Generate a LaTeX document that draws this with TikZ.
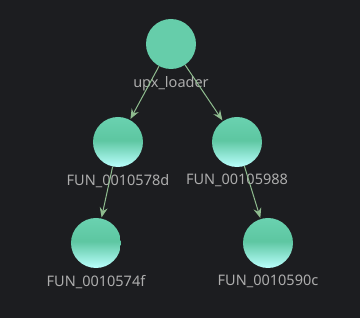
\documentclass[tikz,border=0pt]{standalone}
\usepackage{fontspec}
\setmainfont{Noto Sans}
\usetikzlibrary{arrows.meta}
\definecolor{bgdark}{HTML}{1C1D20}
\definecolor{aqua}{HTML}{66CDAA}
\definecolor{aquatop}{HTML}{6AD2B0}
\definecolor{aquamid}{HTML}{5DC6A1}
\definecolor{aqualight}{HTML}{BAFFFD}
\definecolor{linkgreen}{HTML}{8FBC8F}
\definecolor{labelgray}{HTML}{ADADAD}
% node box runs from 25bp (bottom) to 75bp (top)
\pgfdeclareverticalshading{fnshade}{100bp}{color(0bp)=(aqualight);
  color(25bp)=(aqualight); color(52bp)=(aquamid); color(75bp)=(aquatop);
  color(100bp)=(aquatop)}

\begin{document}
\begin{tikzpicture}[x=1pt, y=-1pt,
          fn/.style={circle, minimum size=50pt, inner sep=0pt,
                     shading=fnshade,
                     label={[labelgray, font=\fontsize{14.5}{16}\selectfont,
                             label distance=3.5pt]below:#1}},
          root/.style={circle, minimum size=50pt, inner sep=0pt, fill=aqua,
                     label={[labelgray, font=\fontsize{14.5}{16}\selectfont,
                             label distance=3.5pt]below:#1}},
          call/.style={-{Stealth[length=10pt, width=8pt, inset=3.5pt]},
                       linkgreen, line width=1pt, shorten >=1pt}
      ]
        \fill[bgdark] (0,0) rectangle (360,318);
        \useasboundingbox (0,0) rectangle (360,318);
        \node[root={upx\_loader}] (loader) at (171, 44) {};
        \node[fn={FUN\_0010578d}] (f578d) at (118, 142) {};
        \node[fn={FUN\_00105988}] (f5988) at (237, 142) {};
        \node[fn={FUN\_0010574f}] (f574f) at (96, 243) {};
        \node[fn={FUN\_0010590c}] (f590c) at (268, 243) {};
        \draw[call] (loader) -- (f578d);
        \draw[call] (loader) -- (f5988);
        \draw[call] (f578d) -- (f574f);
        \draw[call] (f5988) -- (f590c);
      \end{tikzpicture}
\end{document}
